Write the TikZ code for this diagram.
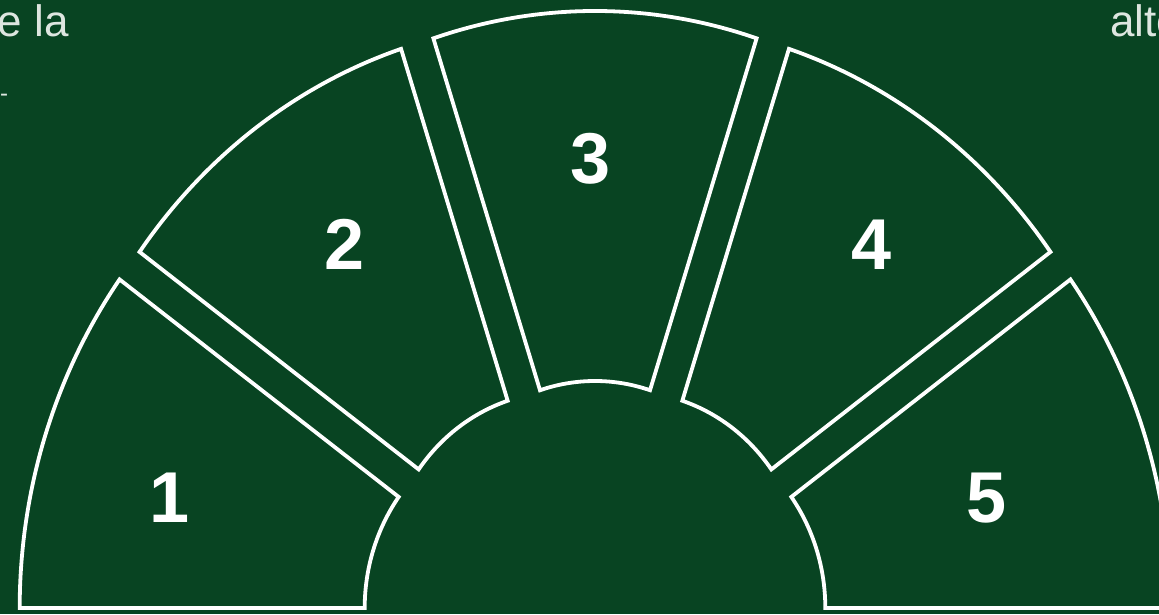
\documentclass[tikz,border=0pt]{standalone}
\usepackage{fontspec}
\setmainfont{Liberation Sans}
\usetikzlibrary{calc}
\definecolor{bg}{RGB}{8,68,34}
\definecolor{faint}{RGB}{222,230,224}
\begin{document}
\begin{tikzpicture}[x=1pt,y=1pt,
  sector/.style={draw=white,line width=3.8pt,line join=miter},
  num/.style={text=white,font=\fontsize{72}{72}\selectfont\bfseries,inner sep=0pt},
  captext/.style={text=faint,font=\fontsize{44}{44}\selectfont,inner sep=0pt}]
\useasboundingbox (0,0) rectangle (1159,614);
\fill[bg] (0,0) rectangle (1159,614);
\clip (0,0) rectangle (1159,614);
\coordinate (O) at (595,-11);
\foreach \i/\t [evaluate=\t as \a using \t-18, evaluate=\t as \b using \t+18] in {1/162,2/126,3/90,4/54,5/18}{
  \coordinate (C\i) at ($(O)+(\t:55)$);
  \draw[sector] ($(C\i)+(\a:523 and 559)$)
     arc[start angle=\a, end angle=\b, x radius=523, y radius=559]
     -- ($(C\i)+(\b:178 and 189)$)
     arc[start angle=\b, end angle=\a, x radius=178, y radius=189]
     -- cycle;
}
\node[num] (n1) at (170,116) {1};
\node[num] (n2) at (345,370) {2};
\node[num] (n3) at (591,455) {3};
\node[num] (n4) at (872,369) {4};
\node[num] (n5) at (987,116) {5};
\node[captext,anchor=base east] (t1) at (69,577) {e la};
\node[captext,anchor=base west] (t2) at (1110,577) {alte};
\node[text=faint,font=\fontsize{24}{24}\selectfont,inner sep=0pt,anchor=base west] (t3) at (0,512) {-};
\end{tikzpicture}
\end{document}
